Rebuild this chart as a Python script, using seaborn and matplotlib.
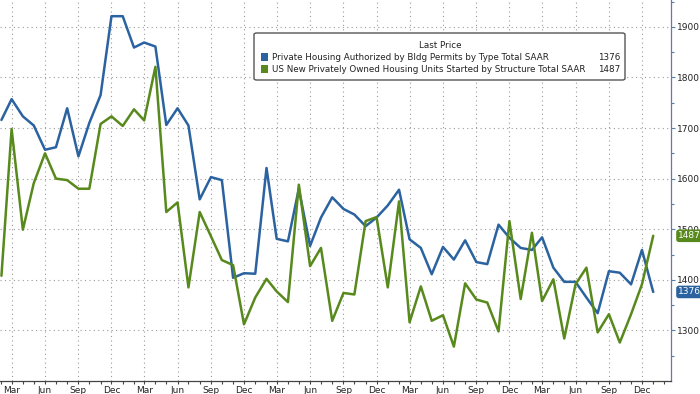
import pandas as pd
import numpy as np
import seaborn as sns
import matplotlib.pyplot as plt
import matplotlib.dates as mdates
from matplotlib.patches import FancyBboxPatch, Rectangle

# monthly data, Feb 2021 .. Jan 2026 (thousands, SAAR)
dates = pd.date_range("2021-02-01", periods=60, freq="MS")
permits = [1716, 1757, 1723, 1705, 1657, 1662, 1739, 1644, 1710, 1765, 1921, 1921, 1859,
           1869, 1861, 1706, 1739, 1705, 1559, 1603, 1597, 1404, 1413, 1412,
           1621, 1481, 1476, 1580, 1467, 1523, 1563, 1540, 1529, 1506, 1523, 1547,
           1578, 1480, 1463, 1411, 1465, 1440, 1478, 1435, 1431, 1509, 1483, 1463,
           1459, 1484, 1424, 1396, 1396, 1365, 1334, 1417, 1414, 1391, 1459, 1376]
starts = [1408, 1698, 1499, 1591, 1650, 1600, 1597, 1580, 1580, 1708, 1723, 1704, 1737,
          1715, 1821, 1534, 1553, 1385, 1534, 1486, 1439, 1429, 1312, 1365,
          1402, 1377, 1356, 1588, 1427, 1463, 1319, 1374, 1371, 1516, 1524, 1385,
          1555, 1316, 1387, 1319, 1330, 1268, 1393, 1361, 1355, 1298, 1516, 1362,
          1493, 1358, 1401, 1284, 1391, 1424, 1296, 1332, 1276, 1332, 1391, 1487]
labels = ["Private Housing Authorized by Bldg Permits by Type Total SAAR",
          "US New Privately Owned Housing Units Started by Structure Total SAAR"]
yticks = [1300, 1400, 1500, 1600, 1700, 1800, 1900]

BLUE = "#2b62a0"
GREEN = "#58891c"

sns.set_theme(style="white")
plt.rcParams["font.family"] = ["DejaVu Sans"]
FS = 6.5
LFS = 6.3

fig = plt.figure(figsize=(7, 3.94), dpi=100)
ax = fig.add_axes([0, 13 / 394, 671 / 700, 381 / 394])

sns.lineplot(x=dates, y=permits, color=BLUE, lw=1.8, ax=ax, zorder=3)
sns.lineplot(x=dates, y=starts, color=GREEN, lw=1.8, ax=ax, zorder=4)

ax.set_xlim(pd.Timestamp("2021-01-28"), pd.Timestamp("2026-02-19"))
ax.set_ylim(1200, 1953)
ax.set_xlabel("")
ax.set_ylabel("")

ax.xaxis.set_major_locator(mdates.MonthLocator(bymonth=[3, 6, 9, 12]))
ax.xaxis.set_minor_locator(mdates.MonthLocator())
ax.xaxis.set_major_formatter(mdates.DateFormatter("%b"))
ax.set_yticks(yticks)
ax.set_yticks(range(1250, 1951, 100), minor=True)

ax.yaxis.tick_right()
ax.tick_params(axis="y", which="both", direction="out", right=True, left=False,
               labelsize=FS, colors="#222222", pad=1.5)
ax.tick_params(axis="y", which="major", length=3, width=0.8, color="#5a7fa8")
ax.tick_params(axis="y", which="minor", length=2, width=0.8, color="#5a7fa8")
ax.tick_params(axis="x", which="both", direction="out", bottom=True,
               labelsize=FS, colors="#222222", pad=1)
ax.tick_params(axis="x", which="major", length=2.5, width=0.8, color="#444444")
ax.tick_params(axis="x", which="minor", length=2, width=0.8, color="#444444")

for s in ["left", "top"]:
    ax.spines[s].set_visible(False)
ax.spines["right"].set_color("#5a7fa8")
ax.spines["right"].set_linewidth(0.9)
ax.spines["bottom"].set_color("#444444")
ax.spines["bottom"].set_linewidth(0.9)

# dotted grid: quarters and every 100
ax.grid(False, which="both")
grid_kw = dict(color="#9a9a9a", linestyle=(0, (1, 3)), linewidth=0.8, zorder=1)
for d in dates[dates.month.isin([3, 6, 9, 12])]:
    ax.axvline(d, **grid_kw)
for v in yticks:
    ax.axhline(v, **grid_kw)

# legend box drawn by hand (Bloomberg style)
W, H = 671.0, 381.0
def ax_xy(px, py):
    return px / W, (H - py) / H

x0, y0 = ax_xy(254, 80)
x1, y1 = ax_xy(625, 33)
box = FancyBboxPatch((x0, y0), x1 - x0, y1 - y0, boxstyle="round,pad=0,rounding_size=0.004",
                     transform=ax.transAxes, facecolor="white", edgecolor="#555555",
                     lw=1.0, zorder=6)
ax.add_patch(box)
tx, ty = ax_xy(440, 45)
ax.text(tx, ty, "Last Price", transform=ax.transAxes, ha="center", va="center",
        fontsize=LFS, color="#222222", zorder=7)
for lab, col, val, py in [(labels[0], BLUE, permits[-1], 57),
                          (labels[1], GREEN, starts[-1], 69)]:
    sx, sy = ax_xy(261, py + 4)
    ax.add_patch(Rectangle((sx, sy), 7 / W, 8 / H, transform=ax.transAxes,
                           facecolor=col, edgecolor="none", zorder=7))
    lx, ly = ax_xy(272, py)
    ax.text(lx, ly, lab, transform=ax.transAxes, ha="left", va="center",
            fontsize=LFS, color="#222222", zorder=7)
    vx, _ = ax_xy(620, py)
    ax.text(vx, ly, f"{val}", transform=ax.transAxes, ha="right", va="center",
            fontsize=LFS, color="#222222", zorder=7)

# last value tags on the right axis
trans = ax.get_yaxis_transform()
for val, col in [(starts[-1], GREEN), (permits[-1], BLUE)]:
    ax.text(678 / W, val, f"{val}", transform=trans, ha="left", va="center",
            fontsize=FS, color="white", zorder=8, clip_on=False,
            bbox=dict(boxstyle="round,pad=0.2,rounding_size=0.3", facecolor=col,
                      edgecolor="none"))

fig.savefig("out.png", dpi=100)
